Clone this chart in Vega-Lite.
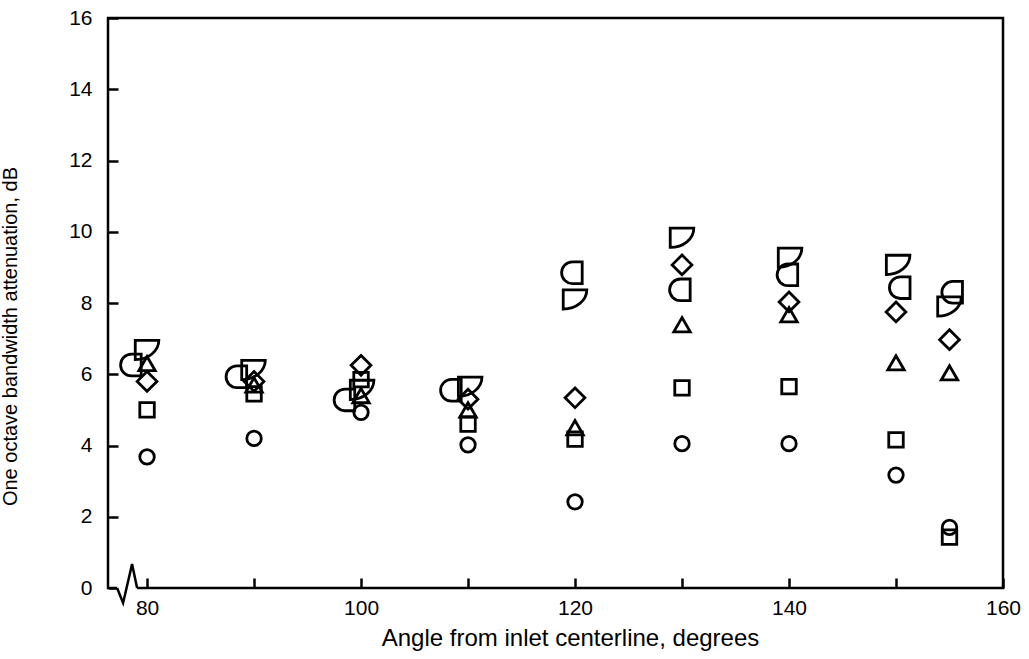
{
  "$schema": "https://vega.github.io/schema/vega-lite/v6.json",
  "width": 895,
  "height": 570,
  "autosize": "none",
  "padding": {"left": 108, "top": 18, "right": 26, "bottom": 71},
  "background": "white",
  "config": {
    "view": {"stroke": "black", "strokeWidth": 2.5},
    "font": "Liberation Sans",
    "point": {"filled": false, "stroke": "black", "strokeWidth": 2.8, "opacity": 1, "strokeJoin": "miter"},
    "axis": {
      "domain": false,
      "grid": false,
      "tickColor": "black",
      "tickWidth": 2.5,
      "tickSize": -10,
      "labelColor": "black",
      "titleColor": "black",
      "labelFont": "Liberation Sans",
      "titleFont": "Liberation Sans",
      "labelFontSize": 21,
      "titleFontWeight": "normal",
      "labelFlush": false,
      "labelOverlap": false,
      "labelBound": false
    }
  },
  "datasets": {
    "points": [
      {"angle": 80, "atten": 3.68, "series": "circle"},
      {"angle": 90, "atten": 4.2, "series": "circle"},
      {"angle": 100, "atten": 4.93, "series": "circle"},
      {"angle": 110, "atten": 4.02, "series": "circle"},
      {"angle": 120, "atten": 2.42, "series": "circle"},
      {"angle": 130, "atten": 4.05, "series": "circle"},
      {"angle": 140, "atten": 4.05, "series": "circle"},
      {"angle": 150, "atten": 3.17, "series": "circle"},
      {"angle": 155, "atten": 1.7, "series": "circle"},
      {"angle": 80, "atten": 5.0, "series": "square"},
      {"angle": 90, "atten": 5.45, "series": "square"},
      {"angle": 100, "atten": 5.85, "series": "square"},
      {"angle": 110, "atten": 4.6, "series": "square"},
      {"angle": 120, "atten": 4.18, "series": "square"},
      {"angle": 130, "atten": 5.62, "series": "square"},
      {"angle": 140, "atten": 5.65, "series": "square"},
      {"angle": 150, "atten": 4.16, "series": "square"},
      {"angle": 155, "atten": 1.43, "series": "square"},
      {"angle": 80, "atten": 6.3, "series": "triangle"},
      {"angle": 90, "atten": 5.7, "series": "triangle"},
      {"angle": 100, "atten": 5.4, "series": "triangle"},
      {"angle": 110, "atten": 5.0, "series": "triangle"},
      {"angle": 120, "atten": 4.5, "series": "triangle"},
      {"angle": 130, "atten": 7.39, "series": "triangle"},
      {"angle": 140, "atten": 7.67, "series": "triangle"},
      {"angle": 150, "atten": 6.32, "series": "triangle"},
      {"angle": 155, "atten": 6.04, "series": "triangle"},
      {"angle": 80, "atten": 5.8, "series": "diamond"},
      {"angle": 90, "atten": 5.8, "series": "diamond"},
      {"angle": 100, "atten": 6.25, "series": "diamond"},
      {"angle": 110, "atten": 5.3, "series": "diamond"},
      {"angle": 120, "atten": 5.34, "series": "diamond"},
      {"angle": 130, "atten": 9.07, "series": "diamond"},
      {"angle": 140, "atten": 8.03, "series": "diamond"},
      {"angle": 150, "atten": 7.75, "series": "diamond"},
      {"angle": 155, "atten": 6.97, "series": "diamond"},
      {"angle": 78.64, "atten": 6.26, "series": "half circle"},
      {"angle": 88.5, "atten": 5.93, "series": "half circle"},
      {"angle": 98.6, "atten": 5.28, "series": "half circle"},
      {"angle": 108.55, "atten": 5.55, "series": "half circle"},
      {"angle": 119.86, "atten": 8.85, "series": "half circle"},
      {"angle": 129.95, "atten": 8.37, "series": "half circle"},
      {"angle": 140.0, "atten": 8.79, "series": "half circle"},
      {"angle": 150.5, "atten": 8.43, "series": "half circle"},
      {"angle": 155.4, "atten": 8.3, "series": "half circle"},
      {"angle": 80, "atten": 6.68, "series": "flag"},
      {"angle": 89.95, "atten": 6.12, "series": "flag"},
      {"angle": 100.1, "atten": 5.56, "series": "flag"},
      {"angle": 110.2, "atten": 5.65, "series": "flag"},
      {"angle": 120, "atten": 8.1, "series": "flag"},
      {"angle": 130, "atten": 9.83, "series": "flag"},
      {"angle": 140.1, "atten": 9.27, "series": "flag"},
      {"angle": 150.2, "atten": 9.07, "series": "flag"},
      {"angle": 155, "atten": 7.9, "series": "flag"}
    ],
    "gap": [
      {"angle": 77.2, "angle2": 79.07, "atten": 0}
    ],
    "zigzag": [
      {"i": 0, "angle": 77.2, "atten": 0},
      {"i": 1, "angle": 77.76, "atten": -0.42},
      {"i": 2, "angle": 78.6, "atten": 0.67},
      {"i": 3, "angle": 79.07, "atten": 0}
    ]
  },
  "encoding": {
    "x": {
      "field": "angle",
      "type": "quantitative",
      "scale": {"domain": [76.35, 160], "nice": false, "zero": false},
      "axis": {
        "title": "Angle from inlet centerline, degrees",
        "values": [80, 90, 100, 110, 120, 130, 140, 150, 160],
        "labelExpr": "datum.value % 20 == 0 ? datum.label : ''",
        "labelPadding": 19,
        "titleFontSize": 24,
        "titleX": 462,
        "titleY": 57,
        "titleBaseline": "alphabetic",
        "titleAnchor": "middle"
      }
    },
    "y": {
      "field": "atten",
      "type": "quantitative",
      "scale": {"domain": [0, 16], "nice": false},
      "axis": {
        "title": "One octave bandwidth attenuation, dB",
        "values": [0, 2, 4, 6, 8, 10, 12, 14, 16],
        "labelPadding": 26,
        "titleFontSize": 20,
        "titleX": -92,
        "titleY": 318,
        "titleBaseline": "alphabetic",
        "titleAngle": 270,
        "titleAlign": "center"
      }
    }
  },
  "layer": [
    {
      "data": {"name": "points"},
      "transform": [{"filter": "datum.series == 'circle'"}],
      "mark": {"type": "point", "shape": "circle", "size": 210}
    },
    {
      "data": {"name": "points"},
      "transform": [{"filter": "datum.series == 'square'"}],
      "mark": {"type": "point", "shape": "square", "size": 210}
    },
    {
      "data": {"name": "points"},
      "transform": [{"filter": "datum.series == 'triangle'"}],
      "mark": {"type": "point", "shape": "triangle-up", "size": 270}
    },
    {
      "data": {"name": "points"},
      "transform": [{"filter": "datum.series == 'diamond'"}],
      "mark": {"type": "point", "shape": "diamond", "size": 390}
    },
    {
      "data": {"name": "points"},
      "transform": [{"filter": "datum.series == 'half circle'"}],
      "mark": {"type": "point", "shape": "M0.8,-1 L-0.1,-1 A1,1 0 0 0 -0.1,1 L0.8,1 Z", "size": 470}
    },
    {
      "data": {"name": "points"},
      "transform": [{"filter": "datum.series == 'flag'"}],
      "mark": {"type": "point", "shape": "M-1.1,-0.9 L1.1,-0.9 A2.2,1.8 0 0 1 -1.1,0.9 Z", "size": 460}
    },
    {
      "data": {"name": "gap"},
      "mark": {"type": "rule", "color": "white", "strokeWidth": 5},
      "encoding": {
        "x2": {"field": "angle2"}
      }
    },
    {
      "data": {"name": "zigzag"},
      "mark": {"type": "line", "color": "black", "strokeWidth": 2.5, "strokeJoin": "miter"},
      "encoding": {
        "order": {"field": "i", "type": "quantitative"}
      }
    }
  ]
}
